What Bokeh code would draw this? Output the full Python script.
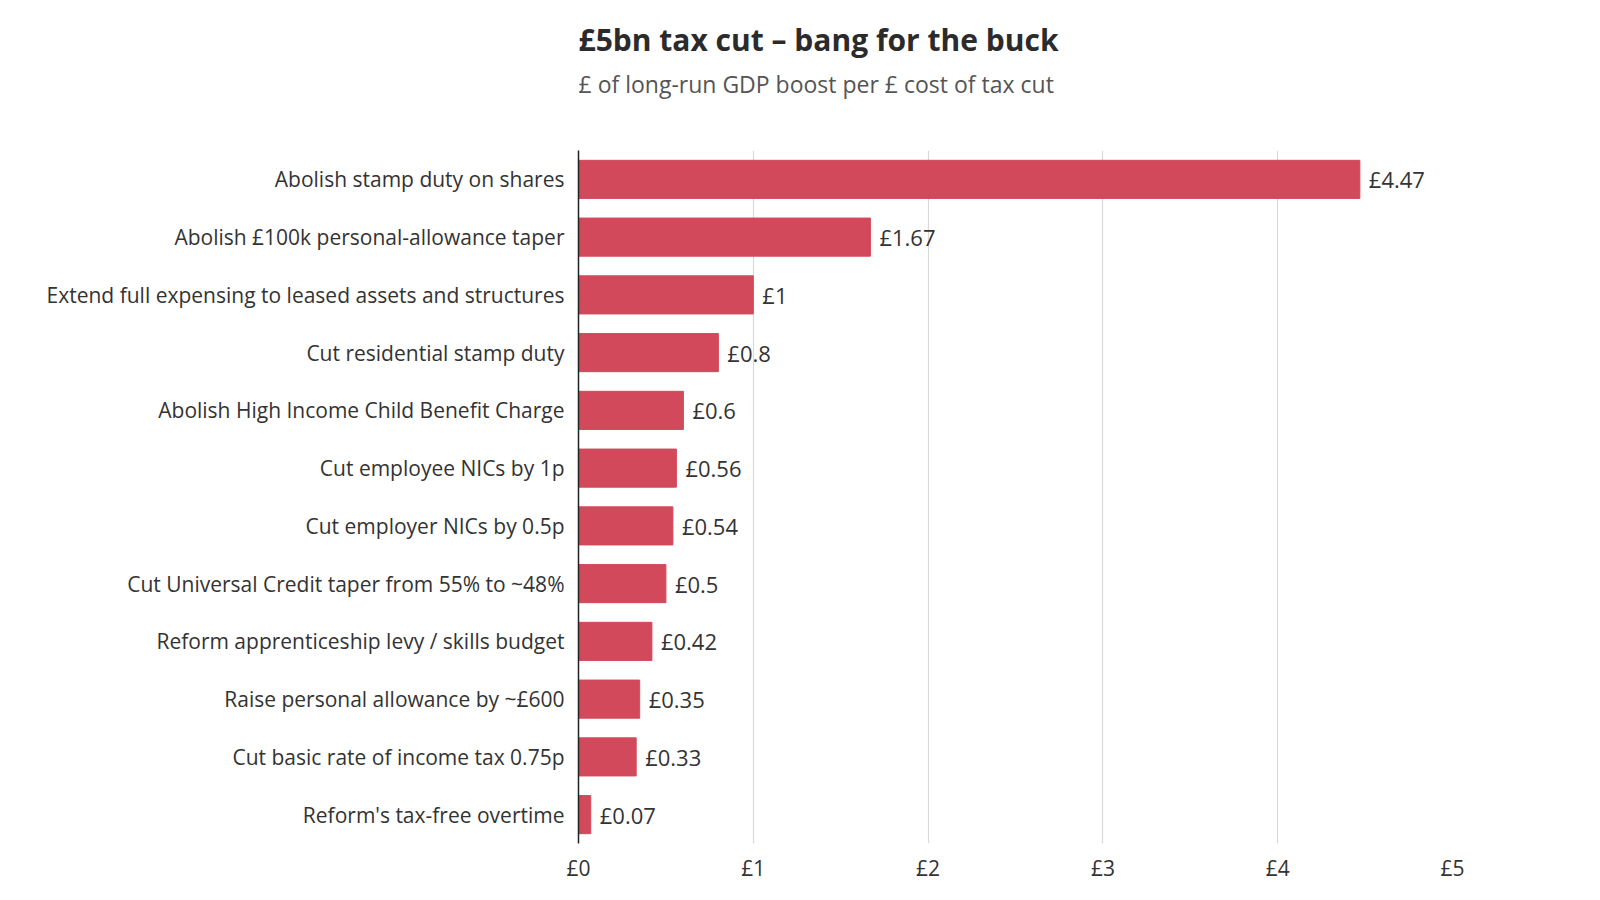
from bokeh.plotting import figure
from bokeh.models import ColumnDataSource, LabelSet, Title, FixedTicker, PrintfTickFormatter, Range1d
from bokeh.core.properties import value
from bokeh.embed import file_html
from bokeh.resources import INLINE

categories = [
    "Abolish stamp duty on shares",
    "Abolish £100k personal-allowance taper",
    "Extend full expensing to leased assets and structures",
    "Cut residential stamp duty",
    "Abolish High Income Child Benefit Charge",
    "Cut employee NICs by 1p",
    "Cut employer NICs by 0.5p",
    "Cut Universal Credit taper from 55% to ~48%",
    "Reform apprenticeship levy / skills budget",
    "Raise personal allowance by ~£600",
    "Cut basic rate of income tax 0.75p",
    "Reform's tax-free overtime",
]
values = [4.47, 1.67, 1.0, 0.8, 0.6, 0.56, 0.54, 0.5, 0.42, 0.35, 0.33, 0.07]
value_labels = ["£4.47", "£1.67", "£1", "£0.8", "£0.6", "£0.56", "£0.54", "£0.5", "£0.42", "£0.35", "£0.33", "£0.07"]
x_ticks = [0, 1, 2, 3, 4, 5]

FONT = "Open Sans"
TEXT = "#333333"
BAR = "#d2495b"

source = ColumnDataSource(dict(cat=categories, val=values, lab=value_labels))

p = figure(
    width=1584, height=884,
    y_range=list(reversed(categories)),
    x_range=Range1d(0, 5),
    output_backend="svg", toolbar_location=None,
    min_border_left=578, min_border_right=132, min_border_top=150, min_border_bottom=37,
)
p.outline_line_color = None
p.background_fill_color = "white"
p.border_fill_color = "white"

p.hbar(y="cat", right="val", left=0, height=0.66, source=source, color=BAR, line_color=BAR)

p.add_layout(LabelSet(x="val", y="cat", text="lab", source=source, x_offset=9,
                      text_align="left", text_baseline="middle", text_font=value(FONT),
                      text_font_size="22px", text_color=TEXT))

p.yaxis.axis_line_color = "#222222"
p.yaxis.axis_line_width = 1.5
p.yaxis.major_tick_line_color = None
p.yaxis.minor_tick_line_color = None
p.yaxis.major_tick_out = 0
p.yaxis.major_tick_in = 0
p.yaxis.major_label_standoff = 14
p.yaxis.major_label_text_font = FONT
p.yaxis.major_label_text_font_size = "21px"
p.yaxis.major_label_text_color = TEXT

p.ygrid.grid_line_color = None
p.xgrid.grid_line_color = "#d9d9d9"
p.xgrid.grid_line_width = 1.2
p.xaxis.ticker = FixedTicker(ticks=x_ticks)
p.xgrid.ticker = FixedTicker(ticks=x_ticks)
p.xaxis.formatter = PrintfTickFormatter(format="£%d")
p.xaxis.axis_line_color = None
p.xaxis.major_tick_line_color = None
p.xaxis.minor_tick_line_color = None
p.xaxis.major_tick_out = 0
p.xaxis.major_tick_in = 0
p.xaxis.major_label_standoff = 10
p.xaxis.major_label_text_font = FONT
p.xaxis.major_label_text_font_size = "21px"
p.xaxis.major_label_text_color = TEXT

# spacer between frame and subtitle
p.add_layout(Title(text=" ", text_font=FONT, text_font_size="1px", standoff=44,
                   align="left"), "above")
p.add_layout(Title(text="£ of long-run GDP boost per £ cost of tax cut", text_font=FONT,
                   text_font_size="23px", text_font_style="normal", text_color="#555555",
                   align="left", standoff=8), "above")
p.add_layout(Title(text="£5bn tax cut – bang for the buck", text_font=FONT,
                   text_font_size="30px", text_font_style="bold", text_color="#2b2b2b",
                   align="left", standoff=4), "above")

open("out.html", "w").write(file_html(p, INLINE))
